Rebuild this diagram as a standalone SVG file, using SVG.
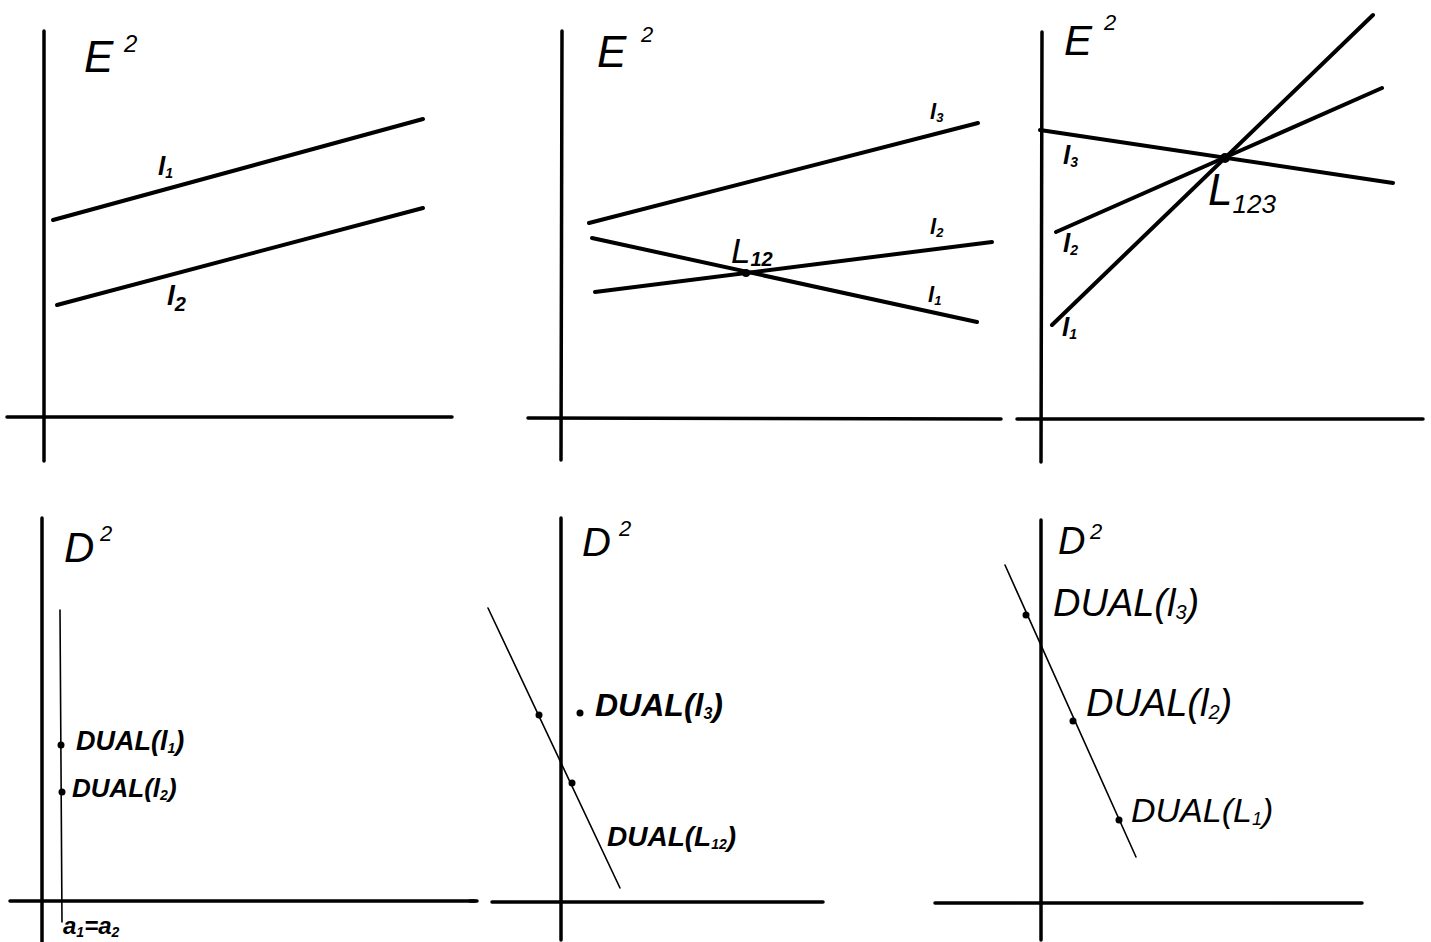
<svg xmlns="http://www.w3.org/2000/svg" width="1431" height="942" viewBox="0 0 1431 942">
<style>
.axis{stroke:#000;stroke-width:3.5;stroke-linecap:round;fill:none}
.ln{stroke:#000;stroke-width:4;stroke-linecap:round;fill:none}
.thin{stroke:#000;stroke-width:1.6;stroke-linecap:round;fill:none}
.t{font-family:"Liberation Sans",Arial,sans-serif;font-style:italic;fill:#000}
.b{font-weight:bold}
</style>
<rect width="1431" height="942" fill="#fff"/>

<g id="panel-e1">
  <line class="axis" x1="44" y1="31" x2="44" y2="461"/>
  <line class="axis" x1="7" y1="417" x2="452" y2="417"/>
  <text class="t" x="84" y="72" font-size="44">E</text>
  <text class="t" x="124" y="52" font-size="24">2</text>
</g>
<g id="panel-e2">
  <line class="axis" x1="562" y1="31" x2="561" y2="460"/>
  <line class="axis" x1="528" y1="418" x2="1001" y2="419"/>
  <text class="t" x="597" y="67" font-size="44">E</text>
  <text class="t" x="641" y="42" font-size="22">2</text>
</g>
<g id="panel-e3">
  <line class="axis" x1="1042" y1="32" x2="1041" y2="462"/>
  <line class="axis" x1="1017" y1="419" x2="1423" y2="419"/>
  <text class="t" x="1064" y="55" font-size="42">E</text>
  <text class="t" x="1104" y="30" font-size="22">2</text>
</g>
<g id="panel-d1">
  <line class="axis" x1="42" y1="518" x2="42" y2="942"/>
  <line class="axis" x1="10" y1="901" x2="475" y2="901"/>
  <text class="t" x="64" y="562" font-size="42">D</text>
  <text class="t" x="100" y="541" font-size="22">2</text>
</g>
<g id="panel-d2">
  <line class="axis" x1="561" y1="518" x2="561" y2="940"/>
  <line class="axis" x1="492" y1="902" x2="823" y2="902"/>
  <line class="axis" x1="470" y1="901" x2="477" y2="901"/>
  <text class="t" x="582" y="556" font-size="40">D</text>
  <text class="t" x="619" y="536" font-size="22">2</text>
</g>
<g id="panel-d3">
  <line class="axis" x1="1041" y1="520" x2="1041" y2="940"/>
  <line class="axis" x1="935" y1="903" x2="1362" y2="903"/>
  <text class="t" x="1058" y="554" font-size="38">D</text>
  <text class="t" x="1090" y="539" font-size="22">2</text>
</g>

<g id="connectors">
  <line class="ln" x1="53" y1="220" x2="423" y2="119"/>
  <line class="ln" x1="57" y1="305" x2="423" y2="208"/>
  <line class="ln" x1="589" y1="223" x2="978" y2="123"/>
  <line class="ln" x1="595" y1="292" x2="992" y2="242"/>
  <line class="ln" x1="592" y1="238" x2="977" y2="322"/>
  <line class="ln" x1="1040" y1="130" x2="1393" y2="183"/>
  <line class="ln" x1="1056" y1="232" x2="1382" y2="88"/>
  <line class="ln" x1="1052" y1="325" x2="1373" y2="15"/>
  <line class="thin" x1="60" y1="610" x2="62" y2="922" stroke-width="2.2"/>
  <line class="thin" x1="488" y1="608" x2="620" y2="888"/>
  <line class="thin" x1="1005" y1="565" x2="1136" y2="857"/>
</g>

<g id="points">
  <circle cx="746" cy="273" r="4"/>
  <circle cx="1225" cy="158" r="5"/>
  <circle cx="61" cy="745" r="3.5"/>
  <circle cx="62" cy="792" r="3.5"/>
  <circle cx="539" cy="715" r="3.5"/>
  <circle cx="572" cy="783" r="3.5"/>
  <circle cx="580" cy="713" r="3.5"/>
  <circle cx="1026" cy="615" r="3.5"/>
  <circle cx="1073" cy="721" r="3.5"/>
  <circle cx="1119" cy="820" r="3.5"/>
</g>

<g id="labels">
  <text class="t b" x="158" y="175" font-size="26">l<tspan font-size="14" dy="3">1</tspan></text>
  <text class="t b" x="167" y="305" font-size="28">l<tspan font-size="20" dy="6">2</tspan></text>
  <text class="t b" x="930" y="119" font-size="22">l<tspan font-size="13" dy="3">3</tspan></text>
  <text class="t b" x="930" y="234" font-size="22">l<tspan font-size="13" dy="3">2</tspan></text>
  <text class="t b" x="928" y="302" font-size="22">l<tspan font-size="13" dy="3">1</tspan></text>
  <text class="t" x="731" y="263" font-size="35">L<tspan class="b" font-size="20" dy="3">12</tspan></text>
  <text class="t b" x="1063" y="164" font-size="26">l<tspan font-size="14" dy="3">3</tspan></text>
  <text class="t b" x="1063" y="252" font-size="26">l<tspan font-size="14" dy="3">2</tspan></text>
  <text class="t b" x="1062" y="336" font-size="26">l<tspan font-size="14" dy="3">1</tspan></text>
  <text class="t" x="1208" y="205" font-size="44">L<tspan font-size="26" dy="8">123</tspan></text>

  <text class="t b" x="76" y="750" font-size="27">DUAL(l<tspan font-size="14" dy="3">1</tspan><tspan dy="-3">)</tspan></text>
  <text class="t b" x="72" y="797" font-size="26">DUAL(l<tspan font-size="14" dy="3">2</tspan><tspan dy="-3">)</tspan></text>
  <text class="t b" x="63" y="934" font-size="24">a<tspan font-size="14" dy="3">1</tspan><tspan dy="-3">=a</tspan><tspan font-size="14" dy="3">2</tspan></text>

  <text class="t b" x="595" y="716" font-size="32">DUAL(l<tspan font-size="16" dy="3">3</tspan><tspan dy="-3">)</tspan></text>
  <text class="t b" x="607" y="846" font-size="28">DUAL(L<tspan font-size="14" dy="3">12</tspan><tspan dy="-3">)</tspan></text>

  <text class="t" x="1053" y="616" font-size="38">DUAL(l<tspan font-size="20" dy="3">3</tspan><tspan dy="-3">)</tspan></text>
  <text class="t" x="1086" y="716" font-size="38">DUAL(l<tspan font-size="20" dy="3">2</tspan><tspan dy="-3">)</tspan></text>
  <text class="t" x="1131" y="822" font-size="34">DUAL(L<tspan font-size="18" dy="3">1</tspan><tspan dy="-3">)</tspan></text>
</g>
</svg>
